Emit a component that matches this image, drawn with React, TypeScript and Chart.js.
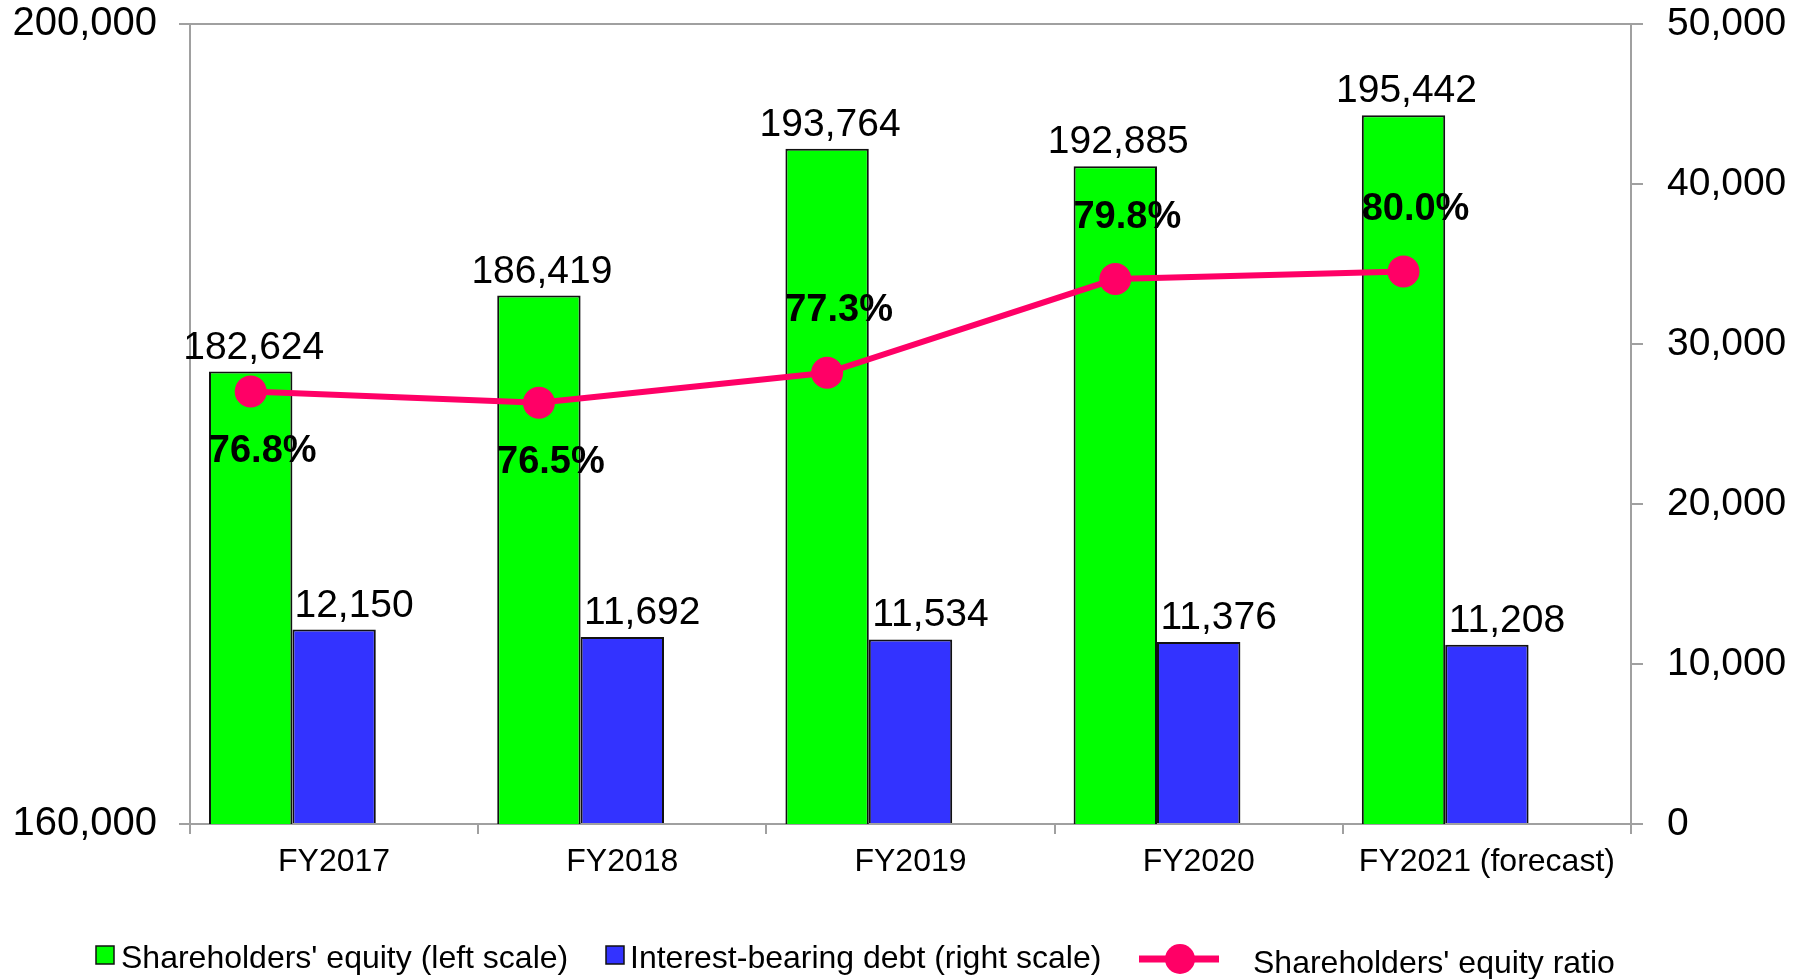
import React, { useEffect, useRef } from "react";
import { Chart, registerables } from "chart.js";

Chart.register(...registerables);

const categories = ["FY2017", "FY2018", "FY2019", "FY2020", "FY2021 (forecast)"];
const equity = [182624, 186419, 193764, 192885, 195442];
const debt = [12150, 11692, 11534, 11376, 11208];
const equityRatio = [76.8, 76.5, 77.3, 79.8, 80.0];
const leftTicks = [160000, 200000];
const rightTicks = [0, 10000, 20000, 30000, 40000, 50000];
const seriesNames = [
  "Shareholders' equity (left scale)",
  "Interest-bearing debt (right scale)",
  "Shareholders' equity ratio",
];

const FONT = "'Liberation Sans', Arial, Helvetica, sans-serif";
const GREEN = "#00FF00";
const BLUE = "#3333FF";
const PINK = "#FF0066";
const AXIS = "#A0A0A0";

const fmt = (v: number) => v.toLocaleString("en-US");

// horizontal shift that puts the ratio line over the equity bars
const lineShift = (chart: any) => {
  const bars = chart.getDatasetMeta(0).data;
  const pts = chart.getDatasetMeta(3).data;
  if (!bars.length || !pts.length) return 0;
  return bars[0].x - pts[0].x;
};

const labelPlugin = {
  id: "valueLabels",
  beforeDatasetDraw(chart: any, args: any) {
    if (args.index === 3) {
      chart.ctx.save();
      chart.ctx.translate(lineShift(chart), 0);
    }
  },
  afterDatasetDraw(chart: any, args: any) {
    if (args.index === 3) chart.ctx.restore();
  },
  afterDatasetsDraw(chart: any) {
    const ctx = chart.ctx;
    ctx.save();
    ctx.fillStyle = "#000";
    ctx.textAlign = "center";
    ctx.textBaseline = "alphabetic";
    ctx.font = `39px ${FONT}`;
    const m0 = chart.getDatasetMeta(0);
    m0.data.forEach((el: any, i: number) => {
      ctx.fillText(fmt(equity[i]), el.x + 3, el.y - 13);
    });
    const m1 = chart.getDatasetMeta(1);
    m1.data.forEach((el: any, i: number) => {
      ctx.fillText(fmt(debt[i]), el.x + 20, el.y - 13);
    });
    ctx.font = `bold 38px ${FONT}`;
    ctx.textBaseline = "middle";
    const dx = lineShift(chart);
    const m3 = chart.getDatasetMeta(3);
    m3.data.forEach((el: any, i: number) => {
      const below = i < 2;
      ctx.fillText(equityRatio[i].toFixed(1) + "%", el.x + dx + 12, below ? el.y + 60 : el.y - 62);
    });
    ctx.restore();
  },
  afterDraw(chart: any) {
    const ctx = chart.ctx;
    ctx.save();
    ctx.font = `32px ${FONT}`;
    ctx.fillStyle = "#000";
    ctx.textAlign = "left";
    ctx.textBaseline = "alphabetic";
    const boxes = [
      { x: 96, color: GREEN, tx: 121, label: seriesNames[0] },
      { x: 606, color: BLUE, tx: 630, label: seriesNames[1] },
    ];
    boxes.forEach((b) => {
      ctx.fillStyle = b.color;
      ctx.fillRect(b.x, 946, 18, 18);
      ctx.strokeStyle = "#111";
      ctx.lineWidth = 1.5;
      ctx.strokeRect(b.x, 946, 18, 18);
      ctx.fillStyle = "#000";
      ctx.fillText(b.label, b.tx, 968);
    });
    ctx.strokeStyle = PINK;
    ctx.lineWidth = 7;
    ctx.beginPath();
    ctx.moveTo(1139, 959);
    ctx.lineTo(1219, 959);
    ctx.stroke();
    ctx.fillStyle = PINK;
    ctx.beginPath();
    ctx.arc(1180, 959, 15, 0, Math.PI * 2);
    ctx.fill();
    ctx.fillStyle = "#000";
    ctx.fillText(seriesNames[2], 1253, 973);
    ctx.restore();
  },
};

export default function App() {
  const ref = useRef<HTMLCanvasElement>(null);
  useEffect(() => {
    document.body.style.margin = "0";
    const canvas = ref.current!;
    const chart = new Chart(canvas, {
      type: "bar",
      data: {
        labels: categories,
        datasets: [
          {
            label: seriesNames[0],
            data: equity,
            yAxisID: "yL",
            stack: "s1",
            backgroundColor: GREEN,
            borderColor: "#111",
            borderWidth: 2,
            order: 1,
          } as any,
          {
            label: seriesNames[1],
            data: debt,
            yAxisID: "yR",
            stack: "s2",
            backgroundColor: BLUE,
            borderColor: "#111",
            borderWidth: 2,
            order: 1,
          },
          {
            label: "",
            data: categories.map(() => null),
            yAxisID: "yR",
            stack: "s3",
            order: 1,
          },
          {
            type: "line",
            label: seriesNames[2],
            data: equityRatio,
            yAxisID: "yP",
            borderColor: PINK,
            backgroundColor: PINK,
            borderWidth: 6,
            pointRadius: 16,
            pointBorderWidth: 0,
            pointBackgroundColor: PINK,
            tension: 0,
            clip: false,
            order: 0,
          },
        ],
      },
      options: {
        responsive: false,
        animation: false,
        events: [],
        layout: { padding: 0 },
        datasets: { bar: { categoryPercentage: 250 / 288, barPercentage: 1 } },
        plugins: { legend: { display: false }, tooltip: { enabled: false } },
        scales: {
          x: {
            type: "category",
            offset: true,
            grid: {
              offset: true,
              drawOnChartArea: false,
              drawTicks: true,
              tickLength: 10,
              color: AXIS,
              lineWidth: 2,
            },
            border: { color: AXIS, width: 2 },
            ticks: { color: "#000", font: { family: FONT, size: 32 }, padding: 9, maxRotation: 0, autoSkip: false },
            afterFit: (axis: any) => {
              axis.height = 155;
            },
          },
          yL: {
            type: "linear",
            position: "left",
            min: 160000,
            max: 200000,
            afterBuildTicks: (axis: any) => {
              axis.ticks = leftTicks.map((v) => ({ value: v }));
            },
            grid: {
              drawOnChartArea: true,
              drawTicks: true,
              tickLength: 11,
              color: AXIS,
              lineWidth: 2,
            },
            border: { color: AXIS, width: 2 },
            ticks: {
              color: "#000",
              font: { family: FONT, size: 40 },
              padding: 22,
              callback: (v: any) => fmt(Number(v)),
            },
            afterFit: (axis: any) => {
              axis.width = 190;
              axis.paddingTop = 24;
              axis.paddingBottom = 0;
            },
          },
          yR: {
            type: "linear",
            position: "right",
            min: 0,
            max: 50000,
            afterBuildTicks: (axis: any) => {
              axis.ticks = rightTicks.map((v) => ({ value: v }));
            },
            grid: {
              drawOnChartArea: false,
              drawTicks: true,
              tickLength: 12,
              color: AXIS,
              lineWidth: 2,
            },
            border: { color: AXIS, width: 2 },
            ticks: {
              color: "#000",
              font: { family: FONT, size: 39 },
              padding: 24,
              callback: (v: any) => fmt(Number(v)),
            },
            afterFit: (axis: any) => {
              axis.width = 181;
              axis.paddingTop = 24;
              axis.paddingBottom = 0;
            },
          },
          yP: {
            type: "linear",
            display: false,
            min: 65.27,
            max: 86.6,
          },
        },
      } as any,
      plugins: [labelPlugin],
    });
    return () => chart.destroy();
  }, []);
  return (
    <div style={{ width: 1812, height: 979, background: "#fff" }}>
      <canvas ref={ref} width={1812} height={979} style={{ display: "block" }} />
    </div>
  );
}
